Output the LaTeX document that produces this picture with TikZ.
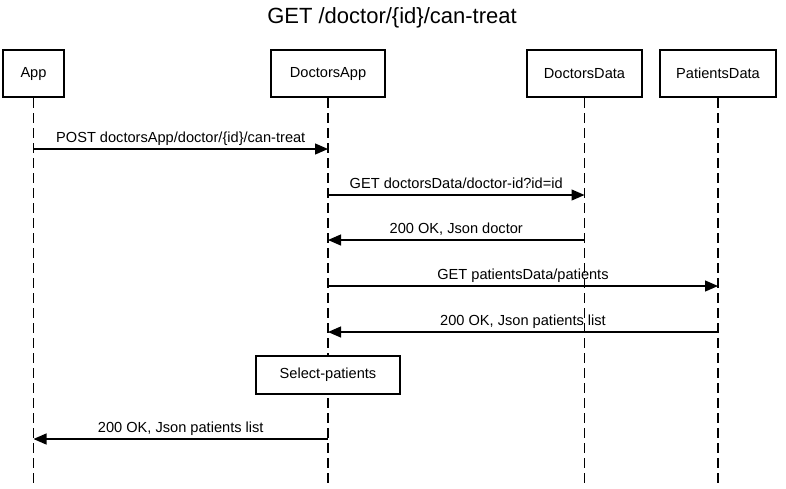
\documentclass[tikz,border=0pt]{standalone}
\usepackage{fontspec}
\setmainfont{Liberation Sans}
\usetikzlibrary{arrows.meta}
\begin{document}
\begin{tikzpicture}[x=1pt,y=-1pt,
  participant/.style={draw,line width=2.7pt,inner sep=0pt,font=\fontsize{14.6}{17}\selectfont,fill=white},
  lifeline/.style={line width=1.3pt,dash pattern=on 10pt off 5pt},
  msg/.style={line width=1.2pt,-{Triangle[length=13pt,width=11pt]}},
  lbl/.style={anchor=base,yshift=6.5pt,inner sep=0pt,font=\fontsize{14.6}{17}\selectfont},
  actbox/.style={draw,line width=1.1pt,fill=white,inner sep=0pt,font=\fontsize{14.6}{17}\selectfont}]
\useasboundingbox (0,0) rectangle (786,488);
\node (title) at (392,18) {\fontsize{22}{26}\selectfont GET /doctor/\{id\}/can-treat};
\node[participant,minimum width=61pt,minimum height=47pt] (app) at (33.5,73.5) {App};
\node[participant,minimum width=114pt,minimum height=47pt] (dapp) at (328,73.5) {DoctorsApp};
\node[participant,minimum width=115pt,minimum height=47pt] (ddata) at (584.5,73.5) {DoctorsData};
\node[participant,minimum width=116pt,minimum height=47pt] (pdata) at (718,73.5) {PatientsData};
\coordinate (appE) at (app.south |- 0,488);
\coordinate (dappE) at (dapp.south |- 0,488);
\coordinate (ddataE) at (ddata.south |- 0,488);
\coordinate (pdataE) at (pdata.south |- 0,488);
\draw[lifeline] (app.south) -- (appE);
\draw[lifeline] (dapp.south) -- (dappE);
\draw[lifeline] (ddata.south) -- (ddataE);
\draw[lifeline] (pdata.south) -- (pdataE);
% message endpoints
\coordinate (m1s) at (app.south |- 0,149);
\coordinate (m1e) at (dapp.south |- 0,149);
\coordinate (m2s) at (dapp.south |- 0,195);
\coordinate (m2e) at (ddata.south |- 0,195);
\coordinate (m3s) at (ddata.south |- 0,240);
\coordinate (m3e) at (dapp.south |- 0,240);
\coordinate (m4s) at (dapp.south |- 0,286);
\coordinate (m4e) at (pdata.south |- 0,286);
\coordinate (m5s) at (pdata.south |- 0,332);
\coordinate (m5e) at (dapp.south |- 0,332);
\coordinate (m6s) at (dapp.south |- 0,439);
\coordinate (m6e) at (app.south |- 0,439);
\draw[msg] (m1s) -- node[lbl]{POST doctorsApp/doctor/\{id\}/can-treat} (m1e);
\draw[msg] (m2s) -- node[lbl]{GET doctorsData/doctor-id?id=id} (m2e);
\draw[msg] (m3s) -- node[lbl]{200 OK, Json doctor} (m3e);
\draw[msg] (m4s) -- node[lbl]{GET patientsData/patients} (m4e);
\draw[msg] (m5s) -- node[lbl]{200 OK, Json patients list} (m5e);
\node[actbox,minimum width=144pt,minimum height=38pt] (sel) at (328,375) {Select-patients};
\draw[msg] (m6s) -- node[lbl]{200 OK, Json patients list} (m6e);
\end{tikzpicture}
\end{document}
